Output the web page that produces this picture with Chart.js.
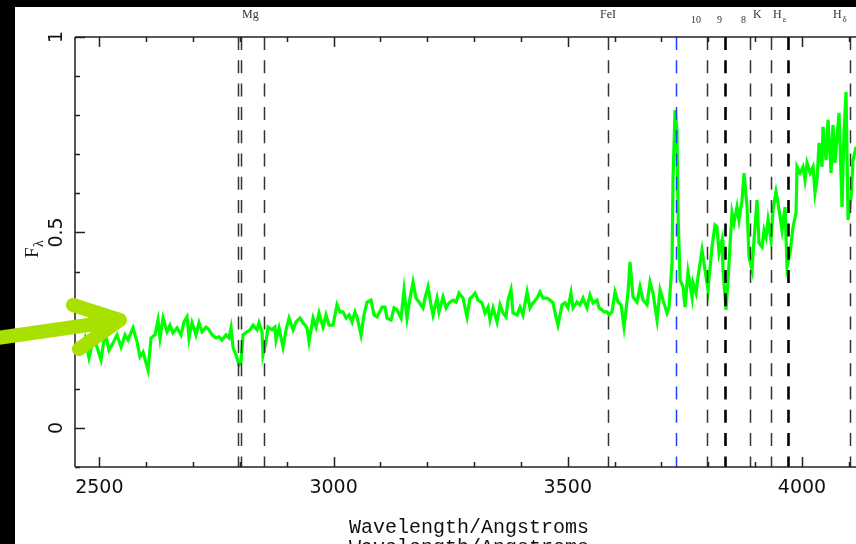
<!DOCTYPE html>
<html>
<head>
<meta charset="utf-8">
<title>Spectrum</title>
<script src="https://cdn.jsdelivr.net/npm/chart.js@4.4.1/dist/chart.umd.min.js"></script>
<style>
  html, body { margin: 0; padding: 0; background: #000; overflow: hidden; }
  canvas { display: block; }
</style>
</head>
<body>
<canvas id="spectrum" width="856" height="544"></canvas>
<script>
// Observed flux against wavelength (Angstroms)
const wavelength = [
    2452.4, 2458.8, 2469.5, 2478.0, 2486.6, 2495.1, 2503.6, 2512.2, 2520.7, 2529.2,
    2537.8, 2546.3, 2554.9, 2561.3, 2571.9, 2580.5, 2586.9, 2593.3, 2604.0, 2610.4,
    2618.9, 2625.3, 2629.6, 2636.0, 2644.5, 2650.9, 2657.3, 2665.9, 2674.4, 2680.8,
    2687.2, 2691.5, 2697.9, 2706.4, 2712.8, 2719.2, 2727.8, 2734.2, 2740.6, 2749.1,
    2755.5, 2761.9, 2770.4, 2776.8, 2781.1, 2785.4, 2793.9, 2798.2, 2802.5, 2806.7,
    2815.3, 2821.7, 2828.1, 2836.6, 2840.9, 2847.3, 2849.4, 2855.8, 2860.1, 2868.6,
    2875.0,
    2877.2, 2883.6, 2892.2, 2898.6, 2905.0, 2913.5, 2919.9, 2928.4, 2934.8, 2943.3,
    2947.6, 2956.2, 2962.6, 2969.0, 2977.5, 2983.9, 2990.3, 2998.9, 3007.4, 3013.8,
    3020.2, 3026.6, 3033.0, 3039.4, 3045.8, 3050.1, 3058.6, 3065.0, 3071.4, 3079.9,
    3086.4, 3092.8, 3103.5, 3109.8, 3114.1, 3122.7, 3129.1, 3135.5, 3144.0, 3150.4,
    3156.8, 3163.2, 3169.6, 3176.0, 3182.4, 3190.9, 3195.2, 3201.6, 3208.0, 3212.3,
    3220.8, 3225.1, 3233.7, 3240.1, 3246.5, 3255.0, 3261.4, 3267.8, 3276.4, 3284.9,
    3291.3,
    3295.6, 3302.0, 3308.4, 3316.9, 3323.3, 3329.7, 3334.0, 3340.4, 3348.9, 3355.3,
    3361.7, 3368.1, 3372.4, 3378.8, 3383.1, 3391.6, 3398.0, 3404.4, 3413.0, 3419.4,
    3425.8, 3434.3, 3440.7, 3447.1, 3455.6, 3462.0, 3468.4, 3474.8, 3479.1, 3487.7,
    3494.1, 3500.5, 3506.9, 3511.1, 3519.7, 3526.1, 3532.5, 3541.0, 3547.4, 3553.8,
    3562.4, 3566.6, 3573.0, 3577.3, 3583.7, 3588.0, 3594.4, 3600.8, 3607.2, 3613.6,
    3620.0, 3628.5, 3632.8, 3639.2, 3647.8, 3654.2, 3660.6, 3669.1, 3675.5, 3681.9,
    3690.5, 3696.9, 3703.3, 3711.8,
    3716.1, 3722.5, 3724.6, 3728.9, 3733.1, 3735.3, 3739.6, 3746.0, 3750.2, 3756.6,
    3765.2, 3767.3, 3773.7, 3778.0, 3786.5, 3792.9, 3799.3, 3807.8, 3814.2, 3818.5,
    3822.8, 3829.2, 3831.3, 3837.7, 3842.0, 3850.5, 3854.8, 3861.2, 3865.5, 3871.9,
    3876.2, 3882.6, 3886.8, 3893.2, 3897.5, 3903.9, 3908.2, 3914.6, 3918.9, 3923.2,
    3927.4, 3933.8, 3938.1, 3944.5, 3948.8, 3957.3, 3963.7, 3968.0, 3974.4, 3980.8,
    3987.2, 3989.3, 3995.7, 4002.1, 4006.4, 4010.7, 4017.1, 4023.5, 4027.7, 4032.0,
    4036.3, 4042.7, 4044.8, 4051.2, 4055.5, 4061.9, 4066.1, 4070.4, 4074.7, 4079.0,
    4085.4, 4089.6, 4093.9, 4098.2, 4104.6, 4108.9, 4115.3, 4122.0
];

const flux = [
    0.217, 0.194, 0.230, 0.179, 0.225, 0.207, 0.174, 0.243, 0.199, 0.217,
    0.238, 0.207, 0.238, 0.225, 0.256, 0.220, 0.182, 0.194, 0.148, 0.230,
    0.238, 0.276, 0.230, 0.281, 0.246, 0.263, 0.243, 0.256, 0.238, 0.271,
    0.284, 0.230, 0.269, 0.238, 0.269, 0.246, 0.258, 0.251, 0.238, 0.230,
    0.233, 0.225, 0.238, 0.230, 0.256, 0.207, 0.179, 0.161, 0.169, 0.238,
    0.246, 0.251, 0.263, 0.251, 0.269, 0.246, 0.187, 0.220, 0.258, 0.251,
    0.258,
    0.225, 0.256, 0.207, 0.251, 0.281, 0.251, 0.271, 0.281, 0.269, 0.256,
    0.220, 0.281, 0.258, 0.294, 0.258, 0.289, 0.263, 0.263, 0.315, 0.297,
    0.297, 0.281, 0.289, 0.271, 0.297, 0.284, 0.238, 0.289, 0.322, 0.327,
    0.289, 0.284, 0.309, 0.309, 0.281, 0.276, 0.307, 0.302, 0.281, 0.353,
    0.281, 0.332, 0.373, 0.332, 0.322, 0.307, 0.332, 0.361, 0.315, 0.289,
    0.332, 0.297, 0.335, 0.307, 0.320, 0.327, 0.322, 0.345, 0.332, 0.284,
    0.332,
    0.335, 0.345, 0.327, 0.320, 0.294, 0.309, 0.276, 0.307, 0.271, 0.315,
    0.294, 0.284, 0.327, 0.353, 0.294, 0.289, 0.309, 0.289, 0.348, 0.307,
    0.320, 0.332, 0.348, 0.332, 0.332, 0.327, 0.320, 0.284, 0.263, 0.315,
    0.320, 0.307, 0.345, 0.307, 0.322, 0.315, 0.332, 0.307, 0.340, 0.320,
    0.327, 0.307, 0.302, 0.297, 0.297, 0.289, 0.297, 0.348, 0.322, 0.315,
    0.258, 0.345, 0.425, 0.335, 0.322, 0.361, 0.327, 0.315, 0.373, 0.345,
    0.276, 0.353, 0.327, 0.294,
    0.309, 0.422, 0.634, 0.813, 0.762, 0.550, 0.379, 0.361, 0.309, 0.399,
    0.335, 0.371, 0.345, 0.386, 0.455, 0.404, 0.353, 0.463, 0.519, 0.514,
    0.448, 0.481, 0.404, 0.302, 0.379, 0.550, 0.524, 0.565, 0.532, 0.583,
    0.652, 0.565, 0.437, 0.404, 0.481, 0.583, 0.473, 0.463, 0.506, 0.488,
    0.532, 0.481, 0.558, 0.604, 0.575, 0.506, 0.565, 0.412, 0.448, 0.514,
    0.550, 0.668, 0.652, 0.668, 0.634, 0.678, 0.652, 0.668, 0.601, 0.634,
    0.729, 0.668, 0.770, 0.685, 0.788, 0.652, 0.775, 0.678, 0.744, 0.806,
    0.565, 0.754, 0.859, 0.532, 0.591, 0.685, 0.719, 0.700
];

// Absorption line markers (black dashed) and the [OII] emission marker (blue)
const absorptionLines = [2796, 2803, 2852, 3586, 3798, 3835, 3889, 3934, 3970, 4102];
const emissionLine = 3731;

// Line identifications along the top, anchored at their left edge
const lineLabels    = ['Mg',   'FeI',  '10',   '9',    '8',    'K',    'H',    'H'];
const lineLabelSubs = ['',     '',     '',     '',     '',     '',     'ε',    'δ'];
const lineLabelWave = [2804.5, 3568.8, 3762.9, 3818.4, 3869.6, 3895.3, 3938.0, 4066.0];

// Axis ticks
const xTickLabels = [2500, 3000, 3500, 4000];
const yTickLabels = ['0', '0.5', '1'];
const yTickValues = [0, 0.5, 1];

const X_MIN = 2448.1, X_MAX = 4115.2;
const Y_MIN = -0.1, Y_MAX = 1.0;

// heavier strokes for the H9 and H-epsilon markers
const boldLines = new Set([3835, 3970]);
const smallLabels = new Set(['10', '9', '8']);

const pagePlugin = {
    id: 'pagePlugin',
    beforeDraw(chart) {
        const c = chart.ctx;
        c.save();
        c.fillStyle = '#000';
        c.fillRect(0, 0, chart.width, chart.height);
        c.fillStyle = '#fff';
        c.fillRect(15, 7, chart.width - 15, chart.height - 7);
        c.restore();
    },
    afterDatasetsDraw(chart) {
        const c = chart.ctx;
        const xs = chart.scales.x, ys = chart.scales.y;
        const area = chart.chartArea;

        // --- marker lines ---
        c.save();
        c.beginPath();
        c.rect(area.left, area.top, area.right - area.left, area.bottom - area.top);
        c.clip();
        c.setLineDash([13, 10.3]);
        absorptionLines.forEach(w => {
            const px = Math.round(xs.getPixelForValue(w)) + 0.5;
            c.strokeStyle = boldLines.has(w) ? '#000' : '#333';
            c.lineWidth = boldLines.has(w) ? 2.6 : 1.5;
            c.beginPath();
            c.moveTo(px, area.top);
            c.lineTo(px, area.bottom);
            c.stroke();
        });
        const bx = Math.round(xs.getPixelForValue(emissionLine)) + 0.5;
        c.strokeStyle = '#1f3fff';
        c.lineWidth = 1.5;
        c.beginPath();
        c.moveTo(bx, area.top);
        c.lineTo(bx, area.bottom);
        c.stroke();
        c.restore();

        // --- frame ---
        c.save();
        c.lineWidth = 1.6;
        c.strokeStyle = '#222';
        c.beginPath();
        c.moveTo(area.left, area.top);
        c.lineTo(area.right, area.top);
        c.moveTo(area.left, area.bottom);
        c.lineTo(area.right, area.bottom);
        c.stroke();
        c.strokeStyle = '#555';
        c.lineWidth = 2;
        c.beginPath();
        c.moveTo(area.left, area.top);
        c.lineTo(area.left, area.bottom);
        c.stroke();

        // x ticks, pointing inwards on top and bottom
        c.strokeStyle = '#222';
        c.lineWidth = 1.5;
        c.beginPath();
        for (let v = 2500; v <= X_MAX; v += 100) {
            const px = Math.round(xs.getPixelForValue(v)) + 0.5;
            const len = xTickLabels.includes(v) ? 10 : 5;
            c.moveTo(px, area.bottom);
            c.lineTo(px, area.bottom - len);
            c.moveTo(px, area.top);
            c.lineTo(px, area.top + len);
        }
        c.stroke();

        // y ticks on the left
        c.beginPath();
        for (let i = -1; i <= 10; i++) {
            const v = i / 10;
            const py = Math.round(ys.getPixelForValue(v)) + 0.5;
            const len = yTickValues.includes(v) ? 10 : 5;
            c.moveTo(area.left, py);
            c.lineTo(area.left + len, py);
        }
        c.stroke();

        // tick labels
        c.fillStyle = '#111';
        c.font = '19px "DejaVu Sans"';
        c.textAlign = 'center';
        c.textBaseline = 'alphabetic';
        xTickLabels.forEach(v => {
            c.fillText(String(v), xs.getPixelForValue(v), 493);
        });
        yTickLabels.forEach((t, i) => {
            c.save();
            c.translate(62, ys.getPixelForValue(yTickValues[i]));
            c.rotate(-Math.PI / 2);
            c.textAlign = 'center';
            c.fillText(t, 0, 0);
            c.restore();
        });

        // axis titles
        c.font = '20px "Liberation Mono"';
        c.textAlign = 'center';
        c.fillText('Wavelength/Angstroms', 469, 533);
        c.fillText('Wavelength/Angstroms', 469, 553);

        c.save();
        c.translate(38, 258);
        c.rotate(-Math.PI / 2);
        c.textAlign = 'left';
        c.font = '19px "Liberation Serif"';
        c.fillText('F', 0, 0);
        c.font = '14px "Liberation Serif"';
        c.fillText('λ', 11, 5);
        c.restore();

        // line identifications above the frame
        c.fillStyle = '#333';
        c.textAlign = 'left';
        lineLabels.forEach((t, i) => {
            const px = xs.getPixelForValue(lineLabelWave[i]);
            if (smallLabels.has(t)) {
                c.font = '10px "Liberation Serif"';
                c.fillText(t, px, 23);
            } else {
                c.font = '12px "Liberation Serif"';
                c.fillText(t, px, 18);
                if (lineLabelSubs[i]) {
                    const w = c.measureText(t).width;
                    c.font = '9px "Liberation Serif"';
                    c.fillText(lineLabelSubs[i], px + w + 1, 22);
                }
            }
        });
        c.restore();
    },
    afterDraw(chart) {
        // highlight arrow pointing at the blue end of the spectrum
        const c = chart.ctx;
        const tipX = chart.scales.x.getPixelForValue(2544);
        const tipY = chart.scales.y.getPixelForValue(0.276);
        c.save();
        c.strokeStyle = '#a8e000';
        c.lineWidth = 14;
        c.lineCap = 'round';
        c.lineJoin = 'round';
        c.beginPath();
        c.moveTo(-10, tipY + 19);
        c.lineTo(tipX - 4, tipY + 1);
        c.moveTo(tipX - 47, tipY - 15);
        c.lineTo(tipX, tipY);
        c.lineTo(tipX - 41, tipY + 29);
        c.stroke();
        c.restore();
    }
};

const ctx = document.getElementById('spectrum').getContext('2d');
new Chart(ctx, {
    type: 'line',
    data: {
        datasets: [{
            data: wavelength.map((w, i) => ({ x: w, y: flux[i] })),
            borderColor: '#00ff00',
            borderWidth: 3.2,
            pointRadius: 0,
            tension: 0,
            fill: false
        }]
    },
    options: {
        responsive: false,
        animation: false,
        devicePixelRatio: 1,
        layout: { padding: { left: 75, top: 37, right: 0, bottom: 77 } },
        scales: {
            x: { type: 'linear', min: X_MIN, max: X_MAX, display: false },
            y: { type: 'linear', min: Y_MIN, max: Y_MAX, display: false }
        },
        plugins: {
            legend: { display: false },
            tooltip: { enabled: false }
        }
    },
    plugins: [pagePlugin]
});
</script>
</body>
</html>
